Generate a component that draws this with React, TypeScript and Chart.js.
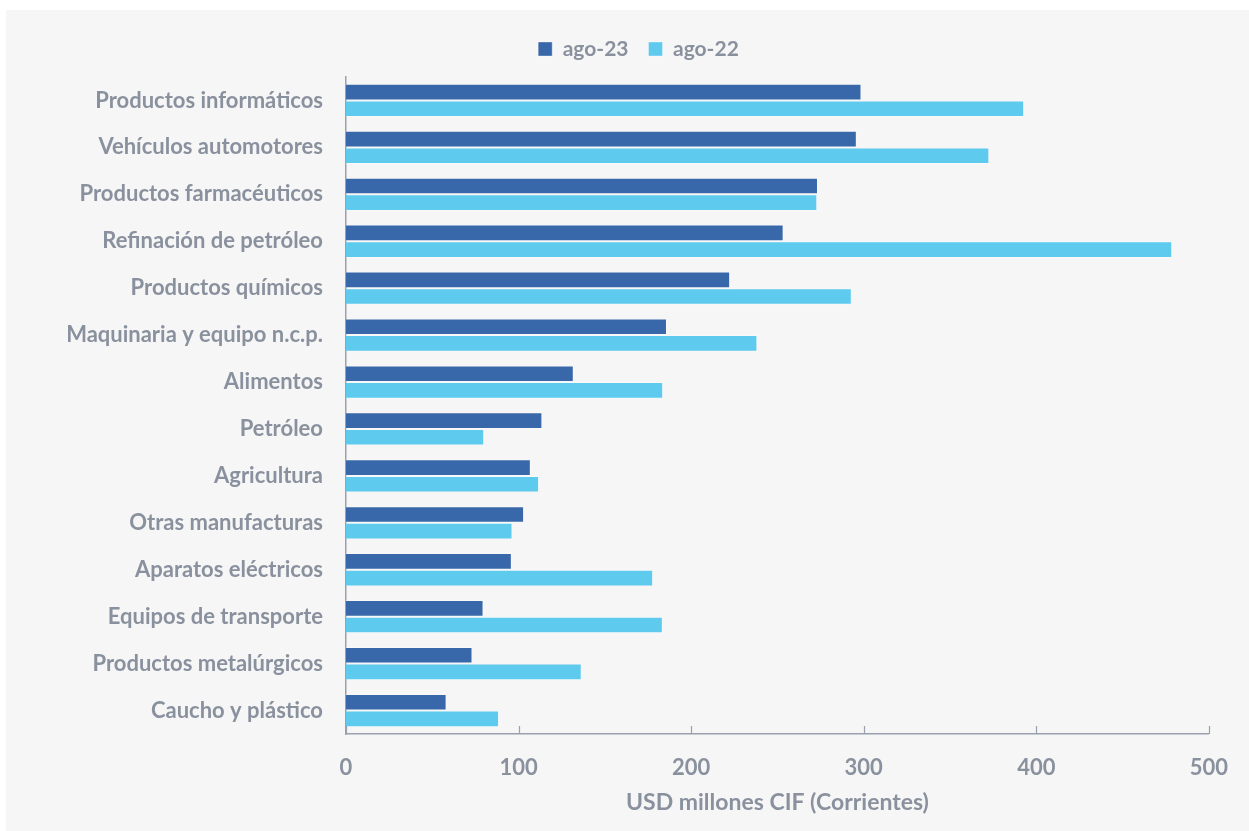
import React, { useEffect, useRef } from 'react';
import { Chart, registerables } from 'chart.js';

Chart.register(...registerables);

const categories = [
  'Productos informáticos',
  'Vehículos automotores',
  'Productos farmacéuticos',
  'Refinación de petróleo',
  'Productos químicos',
  'Maquinaria y equipo n.c.p.',
  'Alimentos',
  'Petróleo',
  'Agricultura',
  'Otras manufacturas',
  'Aparatos eléctricos',
  'Equipos de transporte',
  'Productos metalúrgicos',
  'Caucho y plástico',
];

const ago23 = [298.7, 296, 273.5, 253.6, 222.6, 186, 132, 113.8, 107.1, 103.2, 96.1, 79.7, 73.3, 58.3];
const ago22 = [393, 372.8, 273.1, 478.8, 293.1, 238.4, 183.8, 80.1, 111.9, 96.5, 178, 183.6, 136.6, 88.7];

const xTicks = [0, 100, 200, 300, 400, 500];

const TEXT = '#8a919e';
const AXIS = '#9aa1ae';
const FONT = 'Lato, "Open Sans", sans-serif';

// small upward tick marks on the x axis line
const innerTicks = {
  id: 'innerTicks',
  afterDraw(chart: any) {
    const { ctx, chartArea, scales } = chart;
    const x = scales.x;
    ctx.save();
    ctx.strokeStyle = AXIS;
    ctx.lineWidth = 1.2;
    xTicks.forEach(v => {
      const px = Math.round(x.getPixelForValue(v)) + 0.5;
      ctx.beginPath();
      ctx.moveTo(px, chartArea.bottom);
      ctx.lineTo(px, chartArea.bottom - 8);
      ctx.stroke();
    });
    ctx.restore();
  },
};

// fixed legend height so the plot starts where the reference does
const legendHeight = {
  id: 'legendHeight',
  beforeInit(chart: any) {
    const fit = chart.legend.fit;
    chart.legend.fit = function () {
      fit.bind(chart.legend)();
      this.height = 58.5;
    };
  },
};

export default function App() {
  const canvasRef = useRef<HTMLCanvasElement>(null);

  useEffect(() => {
    document.body.style.margin = '0';
    if (!canvasRef.current) return;
    const chart = new Chart(canvasRef.current, {
      type: 'bar',
      data: {
        labels: categories,
        datasets: [
          {
            label: 'ago-23',
            data: ago23,
            backgroundColor: '#3868a9',
            borderColor: 'rgba(255,255,255,0.35)',
            borderWidth: 1,
          },
          {
            label: 'ago-22',
            data: ago22,
            backgroundColor: '#5ecbee',
            borderColor: 'rgba(255,255,255,0.35)',
            borderWidth: 1,
          },
        ],
      },
      options: {
        indexAxis: 'y',
        animation: false,
        responsive: true,
        maintainAspectRatio: false,
        layout: { padding: { top: 8.5, right: 38, bottom: 0, left: 60 } },
        datasets: {
          bar: { barPercentage: 1, categoryPercentage: 0.71 },
        },
        plugins: {
          legend: {
            position: 'top',
            labels: {
              boxWidth: 14,
              boxHeight: 14,
              padding: 20,
              color: TEXT,
              font: { family: FONT, size: 21, weight: 'bold' },
            },
          },
          tooltip: { enabled: false },
        },
        scales: {
          x: {
            min: 0,
            max: 500,
            afterBuildTicks(scale: any) {
              scale.ticks = xTicks.map(v => ({ value: v }));
            },
            afterFit(scale: any) {
              scale.height = 97;
            },
            grid: { display: false, drawTicks: false },
            border: { display: true, color: AXIS, width: 1.5 },
            ticks: {
              padding: 21,
              color: TEXT,
              font: { family: FONT, size: 22, weight: 'bold' },
            },
            title: {
              display: true,
              text: 'USD millones CIF (Corrientes)',
              color: TEXT,
              padding: { top: 0, bottom: 15 },
              font: { family: FONT, size: 23, weight: 'bold' },
            },
          },
          y: {
            afterFit(scale: any) {
              scale.width = 280;
            },
            grid: { display: false, drawTicks: false },
            border: { display: true, color: AXIS, width: 1.5 },
            ticks: {
              padding: 23,
              color: TEXT,
              font: { family: FONT, size: 22, weight: 'bold' },
            },
          },
        },
      },
      plugins: [innerTicks, legendHeight],
    });
    return () => chart.destroy();
  }, []);

  return (
    <div
      style={{
        position: 'absolute',
        left: 6,
        top: 10,
        width: 1243,
        height: 821,
        background: '#f6f6f6',
      }}
    >
      <canvas ref={canvasRef} />
    </div>
  );
}
